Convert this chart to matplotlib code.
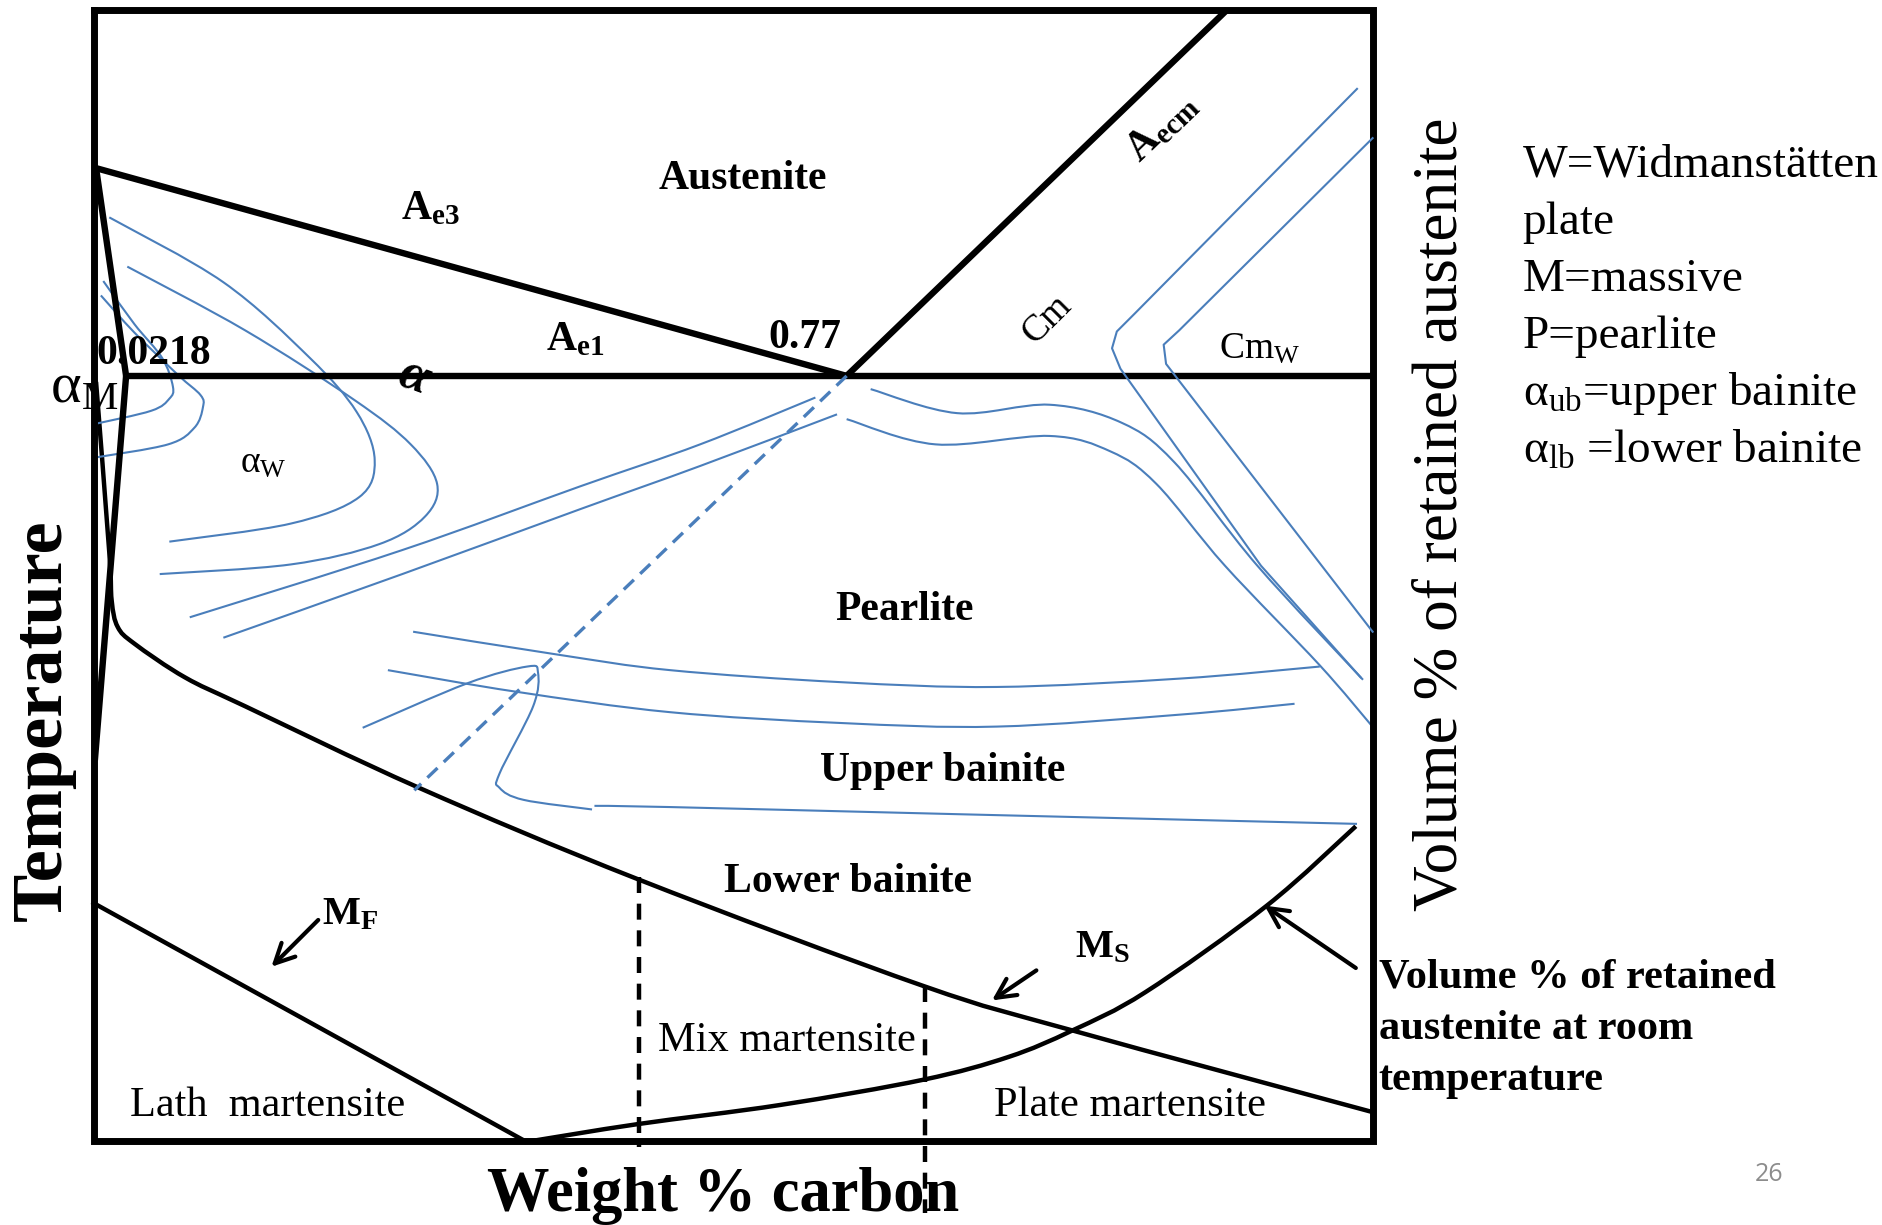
import numpy as np
import matplotlib
matplotlib.use('Agg')
import matplotlib.pyplot as plt
from matplotlib.path import Path
from matplotlib.patches import PathPatch

plt.rcParams['font.family'] = ['Liberation Serif', 'DejaVu Serif']
plt.rcParams['mathtext.fontset'] = 'custom'
plt.rcParams['mathtext.rm'] = 'Liberation Serif'
plt.rcParams['mathtext.it'] = 'Liberation Serif:italic'
plt.rcParams['mathtext.bf'] = 'Liberation Serif:bold'

BLUE = '#4A7EBB'

# --- diagram geometry (x = carbon axis, y = temperature axis, picture units) ---
box_x = [78, 1143, 1143, 78, 78]
box_y = [8, 8, 950, 950, 8]

eutectoid_x = [105, 1143]
eutectoid_y = [313, 313]
ae3_x = [80, 705]
ae3_y = [140, 313]
aecm_x = [705, 1022]
aecm_y = [313, 8]
alpha_x = [80, 105]
alpha_y = [140, 313]
solvus_x = [105, 79]
solvus_y = [313, 633]
mf_x = [78, 437]
mf_y = [752, 950]

ms_curve = [(80, 318), (91, 460), (93, 500), (98, 522), (112, 536), (154, 564),
            (204, 588), (349, 656), (531, 732), (769, 821), (893, 858), (1143, 926)]
retained_curve = [(437, 951), (531, 936), (650, 920), (769, 899), (840, 880),
                  (893, 858), (954, 826), (1055, 754), (1129, 688)]

mix_left_x = [532, 532]
mix_left_y = [730, 955]
mix_right_x = [770, 770]
mix_right_y = [821, 1010]

# blue transformation curves
massive_1 = [(86, 234), (112, 270), (135, 298), (144, 322), (141, 332), (126, 342), (79, 353)]
massive_2 = [(84, 246), (112, 277), (148, 312), (167, 329), (169, 339), (162, 356), (140, 370), (79, 381)]
widman_1 = [(91, 181), (186, 235), (258, 298), (297, 343), (312, 383), (299, 414), (242, 436), (141, 451)]
widman_2 = [(106, 222), (204, 275), (295, 333), (342, 370), (364, 403), (354, 430),
            (316, 453), (242, 470), (133, 478)]
pearl_left_1 = [(158, 514), (335, 458), (483, 405), (583, 370), (679, 331)]
pearl_left_2 = [(186, 531), (335, 478), (483, 424), (583, 388), (697, 345)]
pearl_right_1 = [(725, 324), (797, 344), (874, 337), (934, 352), (978, 385), (1047, 471), (1135, 566)]
pearl_right_2 = [(705, 349), (779, 370), (874, 363), (925, 376), (963, 403), (1020, 471),
                 (1099, 554), (1142, 604)]
cem_1 = [(1130, 74), (945, 261), (930, 276), (926, 290), (933, 307), (1050, 471), (1133, 564)]
cem_w = [(1143, 115), (982, 275), (969, 287), (971, 303), (1143, 526)]
pearl_low = [(344, 526), (464, 545), (558, 558), (700, 568), (830, 572), (983, 565), (1099, 555)]
bain_top = [(323, 558), (430, 576), (558, 593), (700, 602), (830, 605), (983, 595), (1078, 586)]
bain_nose = [(302, 606), (389, 569), (439, 555), (448, 560), (444, 588), (416, 644),
             (416, 656), (436, 666), (493, 674)]
bain_low = [(495, 671), (558, 672), (800, 678), (1130, 686)]
eutectoid_ext_x = [705, 345]
eutectoid_ext_y = [313, 658]

smooth_curves = [massive_1, massive_2, widman_1, widman_2, pearl_left_1, pearl_left_2,
                 pearl_right_1, pearl_right_2, pearl_low, bain_top, bain_nose, bain_low]
straight_curves = [cem_1, cem_w]


def smooth_path(pts):
    # Catmull-Rom through the read points, handed to matplotlib as cubic Bezier
    p = np.asarray(pts, float)
    verts = [p[0]]
    codes = [Path.MOVETO]
    n = len(p)
    for i in range(n - 1):
        a = p[i - 1] if i > 0 else p[i]
        d = p[i + 2] if i + 2 < n else p[i + 1]
        verts += [p[i] + (p[i + 1] - a) / 6, p[i + 1] - (d - p[i]) / 6, p[i + 1]]
        codes += [Path.CURVE4] * 3
    return Path(verts, codes)


fig = plt.figure(figsize=(18.83, 12.25), dpi=100)
ax = fig.add_axes([0, 0, 1, 1])
ax.set_xlim(0, 1568)
ax.set_ylim(1020, 0)
ax.axis('off')

# black phase boundaries
ax.plot(box_x, box_y, color='black', lw=5, solid_joinstyle='miter')
for xs, ys in [(eutectoid_x, eutectoid_y), (ae3_x, ae3_y), (aecm_x, aecm_y),
               (alpha_x, alpha_y), (solvus_x, solvus_y)]:
    ax.plot(xs, ys, color='black', lw=4.6, solid_capstyle='butt')
ax.plot(mf_x, mf_y, color='black', lw=3.2)
ax.add_patch(PathPatch(smooth_path(ms_curve), fill=False, ec='black', lw=3.2))
ax.add_patch(PathPatch(smooth_path(retained_curve), fill=False, ec='black', lw=3.2))
for xs, ys in [(mix_left_x, mix_left_y), (mix_right_x, mix_right_y)]:
    ax.plot(xs, ys, color='black', lw=3.2, linestyle=(0, (3.6, 2.4)), zorder=5)

# blue C-curves
for c in smooth_curves:
    ax.add_patch(PathPatch(smooth_path(c), fill=False, ec=BLUE, lw=1.5))
for c in straight_curves:
    xs, ys = zip(*c)
    ax.plot(xs, ys, color=BLUE, lw=1.5)
ax.plot(eutectoid_ext_x, eutectoid_ext_y, color=BLUE, lw=2.4, linestyle=(0, (4.2, 2.6)))

# arrows
arrow = dict(arrowstyle='->,head_length=0.7,head_width=0.35', lw=3, color='black',
             mutation_scale=20, shrinkA=0, shrinkB=0)
ax.annotate('', xy=(226, 805), xytext=(265, 766), arrowprops=arrow)
ax.annotate('', xy=(826, 833), xytext=(863, 808), arrowprops=arrow)
ax.annotate('', xy=(1053, 754), xytext=(1129, 806), arrowprops=arrow)

# region labels
bold = dict(fontweight='bold', fontsize=30)
ax.text(619, 157, 'Austenite', ha='center', va='baseline', **bold)
ax.text(753, 516, 'Pearlite', ha='center', va='baseline', **bold)
ax.text(785, 650, 'Upper bainite', ha='center', va='baseline', **bold)
ax.text(706, 743, 'Lower bainite', ha='center', va='baseline', **bold)
ax.text(640, 290, '0.77', ha='left', va='baseline', **bold)
ax.text(80, 303, '0.0218', ha='left', va='baseline', **bold)
ax.text(334, 183, r'$\mathbf{A}_{\mathbf{e3}}$', ha='left', va='baseline', fontsize=30)
ax.text(455, 292, r'$\mathbf{A}_{\mathbf{e1}}$', ha='left', va='baseline', fontsize=30)
ax.text(968, 106, r'$\mathbf{A}_{\mathbf{ecm}}$', ha='center', va='center', fontsize=30,
        rotation=44)
ax.text(344, 314, 'α', ha='center', va='center', fontsize=38, fontweight='bold',
        fontstyle='italic', rotation=-20)
ax.text(42, 335, r'$\mathrm{α}_{\mathrm{M}}$', ha='left', va='baseline', fontsize=42)
ax.text(200, 393, r'$\mathrm{α}_{\mathrm{W}}$', ha='left', va='baseline', fontsize=27)
ax.text(872, 266, 'Cm', ha='center', va='center', fontsize=27, rotation=45)
ax.text(1015, 298, r'$\mathrm{Cm}_{\mathrm{W}}$', ha='left', va='baseline', fontsize=27)
ax.text(268, 770, r'$\mathbf{M}_{\mathbf{F}}$', ha='left', va='baseline', fontsize=29)
ax.text(895, 797, r'$\mathbf{M}_{\mathbf{S}}$', ha='left', va='baseline', fontsize=29)

ax.text(548, 875, 'Mix martensite', ha='left', va='baseline', fontsize=30.5)
ax.text(108, 929, 'Lath  martensite', ha='left', va='baseline', fontsize=30.5)
ax.text(828, 929, 'Plate martensite', ha='left', va='baseline', fontsize=30.5)

# axis titles
ax.text(602, 1008, 'Weight % carbon', ha='center', va='baseline', fontsize=45,
        fontweight='bold')
ax.text(36, 600, 'Temperature', ha='center', va='center', fontsize=52,
        fontweight='bold', rotation=90)
ax.text(1200, 428, 'Volume % of retained austenite', ha='center', va='center',
        fontsize=45.5, rotation=90)

retained_lines = ['Volume % of retained', 'austenite at room', 'temperature']
for i, s in enumerate(retained_lines):
    ax.text(1148, 822 + 43 * i, s, ha='left', va='baseline', fontsize=30.5,
            fontweight='bold')

legend_lines = ['W=Widmanstätten', 'plate', 'M=massive', 'P=pearlite',
                r'$\mathrm{α}_{\mathrm{ub}}$=upper bainite',
                r'$\mathrm{α}_{\mathrm{lb}}$ =lower bainite']
for i, s in enumerate(legend_lines):
    ax.text(1268, 147 + 47.6 * i, s, ha='left', va='baseline', fontsize=34)

ax.text(1473, 978, '26', ha='center', va='center', fontsize=18, color='#8C8C8C',
        family=['Open Sans', 'DejaVu Sans'])

fig.savefig('out.png', dpi=100)
